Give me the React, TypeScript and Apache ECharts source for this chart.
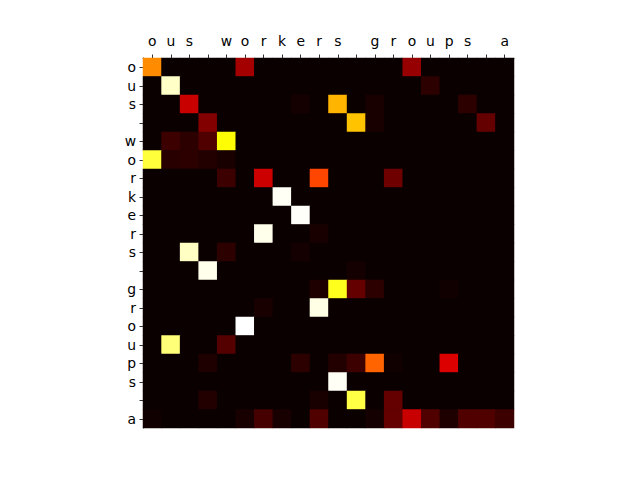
import React, { useEffect, useRef } from "react";
import * as echarts from "echarts";

const xLabels = ["o", "u", "s", " ", "w", "o", "r", "k", "e", "r", "s", " ", "g", "r", "o", "u", "p", "s", " ", "a"];
const yLabels = ["o", "u", "s", " ", "w", "o", "r", "k", "e", "r", "s", " ", "g", "r", "o", "u", "p", "s", " ", "a"];

// attention weights, one array per row (query), 20 columns (keys)
const row0 = [0.574, 0, 0, 0, 0, 0.231, 0, 0, 0, 0, 0, 0, 0, 0, 0.208, 0, 0, 0, 0, 0];
const row1 = [0, 0.945, 0, 0, 0, 0, 0, 0, 0, 0, 0, 0, 0, 0, 0, 0.051, 0, 0, 0, 0];
const row2 = [0, 0, 0.283, 0, 0, 0, 0, 0, 0.014, 0, 0.634, 0, 0.021, 0, 0, 0, 0, 0.051, 0, 0];
const row3 = [0, 0, 0, 0.178, 0, 0, 0, 0, 0, 0, 0, 0.656, 0.021, 0, 0, 0, 0, 0, 0.134, 0];
const row4 = [0, 0.074, 0.051, 0.104, 0.746, 0, 0, 0, 0, 0, 0, 0, 0, 0, 0, 0, 0, 0, 0, 0];
const row5 = [0.806, 0.044, 0.051, 0.036, 0.021, 0, 0, 0, 0, 0, 0, 0, 0, 0, 0, 0, 0, 0, 0, 0];
const row6 = [0, 0, 0, 0, 0.074, 0, 0.29, 0, 0, 0.47, 0, 0, 0, 0.148, 0, 0, 0, 0, 0, 0];
const row7 = [0, 0, 0, 0, 0, 0, 0, 0.99, 0, 0, 0, 0, 0, 0, 0, 0, 0, 0, 0, 0];
const row8 = [0, 0, 0, 0, 0, 0, 0, 0, 0.995, 0, 0, 0, 0, 0, 0, 0, 0, 0, 0, 0];
const row9 = [0, 0, 0, 0, 0, 0, 0.98, 0, 0, 0.021, 0, 0, 0, 0, 0, 0, 0, 0, 0, 0];
const row10 = [0, 0, 0.94, 0, 0.051, 0, 0, 0, 0.014, 0, 0, 0, 0, 0, 0, 0, 0, 0, 0, 0];
const row11 = [0, 0, 0, 0.98, 0, 0, 0, 0, 0, 0, 0, 0.014, 0, 0, 0, 0, 0, 0, 0, 0];
const row12 = [0, 0, 0, 0, 0, 0, 0, 0, 0, 0.029, 0.776, 0.134, 0.051, 0, 0, 0, 0.01, 0, 0, 0];
const row13 = [0, 0, 0, 0, 0, 0, 0.021, 0, 0, 0.975, 0, 0, 0, 0, 0, 0, 0, 0, 0, 0];
const row14 = [0, 0, 0, 0, 0, 1.0, 0, 0, 0, 0, 0, 0, 0, 0, 0, 0, 0, 0, 0, 0];
const row15 = [0, 0.866, 0, 0, 0.111, 0, 0, 0, 0, 0, 0, 0, 0, 0, 0, 0, 0, 0, 0, 0];
const row16 = [0, 0, 0, 0.029, 0, 0, 0, 0, 0.051, 0, 0.036, 0.074, 0.514, 0.01, 0, 0, 0.313, 0, 0, 0];
const row17 = [0, 0, 0, 0, 0, 0, 0, 0, 0, 0, 0.99, 0, 0, 0, 0, 0, 0, 0, 0, 0];
const row18 = [0, 0, 0, 0.036, 0, 0, 0, 0, 0, 0.021, 0, 0.816, 0, 0.134, 0, 0, 0, 0, 0, 0];
const row19 = [0.01, 0, 0, 0, 0, 0.021, 0.089, 0.021, 0, 0.104, 0, 0, 0.014, 0.134, 0.283, 0.104, 0.029, 0.104, 0.104, 0.074];

const rows = [row0, row1, row2, row3, row4, row5, row6, row7, row8, row9, row10, row11, row12, row13, row14, row15, row16, row17, row18, row19];

function hot(v: number): string {
  const c = (t: number) => Math.max(0, Math.min(1, t));
  const r = c(0.0416 + (0.9584 * v) / 0.365079);
  const g = c((v - 0.365079) / (0.746032 - 0.365079));
  const b = c((v - 0.746032) / (1 - 0.746032));
  const h = (t: number) => Math.round(t * 255).toString(16).padStart(2, "0");
  return "#" + h(r) + h(g) + h(b);
}

const hotStops: string[] = [];
for (let i = 0; i <= 80; i++) hotStops.push(hot(i / 80));

export default function App() {
  const ref = useRef<HTMLDivElement>(null);
  useEffect(() => {
    if (!ref.current) return;
    const chart = echarts.init(ref.current, null, { renderer: "svg" });
    const data: number[][] = [];
    rows.forEach((row, r) => row.forEach((v, c) => data.push([c, r, v])));
    const idx = xLabels.map((_, i) => String(i));
    const font = "DejaVu Sans";
    chart.setOption({
      animation: false,
      backgroundColor: "#ffffff",
      grid: {
        left: 143,
        top: 58,
        width: 371,
        height: 370,
        show: true,
        backgroundColor: hot(0),
        borderWidth: 0,
      },
      visualMap: {
        show: false,
        min: 0,
        max: 1,
        dimension: 2,
        inRange: { color: hotStops },
      },
      xAxis: {
        type: "category",
        position: "top",
        data: idx,
        axisLine: { show: true, lineStyle: { color: "#000", width: 0.8 } },
        axisTick: { show: true, alignWithLabel: true, length: 3.5, lineStyle: { color: "#000", width: 0.8 } },
        axisLabel: {
          interval: 0,
          margin: 10,
          color: "#000",
          fontFamily: font,
          fontSize: 13.9,
          formatter: (v: string) => xLabels[Number(v)],
        },
        splitLine: { show: false },
      },
      yAxis: {
        type: "category",
        inverse: true,
        data: idx,
        axisLine: { show: true, lineStyle: { color: "#000", width: 0.8 } },
        axisTick: { show: true, alignWithLabel: true, length: 3.5, lineStyle: { color: "#000", width: 0.8 } },
        axisLabel: {
          interval: 0,
          margin: 7,
          color: "#000",
          fontFamily: font,
          fontSize: 13.9,
          formatter: (v: string) => yLabels[Number(v)],
        },
        splitLine: { show: false },
      },
      series: [
        {
          type: "heatmap",
          data,
          itemStyle: { borderWidth: 0 },
          emphasis: { disabled: true },
        },
      ],
    });
    return () => chart.dispose();
  }, []);
  return (
    <div
      ref={ref}
      style={{ position: "fixed", left: 0, top: 0, width: 640, height: 480 }}
    />
  );
}
